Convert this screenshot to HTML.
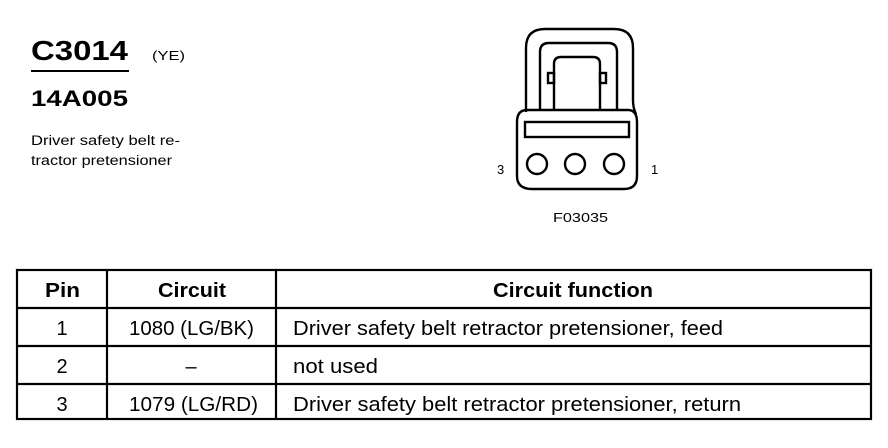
<!DOCTYPE html>
<html><head><style>
body{margin:0;background:#fff;width:888px;height:448px;overflow:hidden}
svg{display:block}
text{font-family:"Liberation Sans",Arial,sans-serif;fill:#000}
</style></head><body>
<svg width="888" height="448" viewBox="0 0 888 448">
<text x="31" y="60" font-size="28" font-weight="bold" textLength="97" lengthAdjust="spacingAndGlyphs">C3014</text>
<text x="152" y="60" font-size="13" textLength="33" lengthAdjust="spacingAndGlyphs">(YE)</text>
<line x1="31" y1="71" x2="129" y2="71" stroke="#000" stroke-width="2"/>
<text x="31" y="106" font-size="22" font-weight="bold" textLength="97" lengthAdjust="spacingAndGlyphs">14A005</text>
<text x="31" y="145" font-size="13.5" textLength="149" lengthAdjust="spacingAndGlyphs">Driver safety belt re-</text>
<text x="31" y="165" font-size="13.5" textLength="141" lengthAdjust="spacingAndGlyphs">tractor pretensioner</text>

<g fill="none" stroke="#000" stroke-width="2.4">
<path d="M526,112 L526,48 Q526,29 545,29 L614,29 Q633,29 633,48 L633,100 Q633,108 636,114"/>
<path d="M540,110 L540,52 Q540,43 549,43 L608,43 Q617,43 617,52 L617,110"/>
<path d="M554,110 L554,64 Q554,57 561,57 L593,57 Q600,57 600,64 L600,110"/>
<rect x="548" y="73" width="6" height="10"/>
<rect x="600" y="73" width="6" height="10"/>
<path d="M527,110 L628,110 Q637,110 637,122 L637,176 Q637,189 624,189 L532,189 Q517,189 517,176 L517,122 Q517,110 527,110 Z"/>
<rect x="525" y="122" width="104" height="15"/>
<circle cx="537" cy="164" r="10"/>
<circle cx="575" cy="164" r="10"/>
<circle cx="614" cy="164" r="10"/>
</g>
<text x="497" y="174" font-size="13">3</text>
<text x="651" y="174" font-size="13">1</text>
<text x="553" y="222" font-size="13" textLength="55" lengthAdjust="spacingAndGlyphs">F03035</text>

<g stroke="#000" stroke-width="2.2" fill="none">
<rect x="17" y="270" width="854" height="149"/>
<line x1="17" y1="308" x2="871" y2="308"/>
<line x1="17" y1="346" x2="871" y2="346"/>
<line x1="17" y1="384" x2="871" y2="384"/>
<line x1="107" y1="270" x2="107" y2="419"/>
<line x1="276" y1="270" x2="276" y2="419"/>
</g>
<g font-size="20">
<text x="45" y="297" font-weight="bold" textLength="35" lengthAdjust="spacingAndGlyphs">Pin</text>
<text x="158" y="297" font-weight="bold" textLength="68" lengthAdjust="spacingAndGlyphs">Circuit</text>
<text x="493" y="297" font-weight="bold" textLength="160" lengthAdjust="spacingAndGlyphs">Circuit function</text>
<text x="62" y="335" text-anchor="middle">1</text>
<text x="129" y="335" textLength="125" lengthAdjust="spacingAndGlyphs">1080 (LG/BK)</text>
<text x="293" y="335" textLength="430" lengthAdjust="spacingAndGlyphs">Driver safety belt retractor pretensioner, feed</text>
<text x="62" y="373" text-anchor="middle">2</text>
<text x="191" y="373" text-anchor="middle">–</text>
<text x="293" y="373" textLength="85" lengthAdjust="spacingAndGlyphs">not used</text>
<text x="62" y="411" text-anchor="middle">3</text>
<text x="129" y="411" textLength="129" lengthAdjust="spacingAndGlyphs">1079 (LG/RD)</text>
<text x="293" y="411" textLength="448" lengthAdjust="spacingAndGlyphs">Driver safety belt retractor pretensioner, return</text>
</g>
</svg>
</body></html>
